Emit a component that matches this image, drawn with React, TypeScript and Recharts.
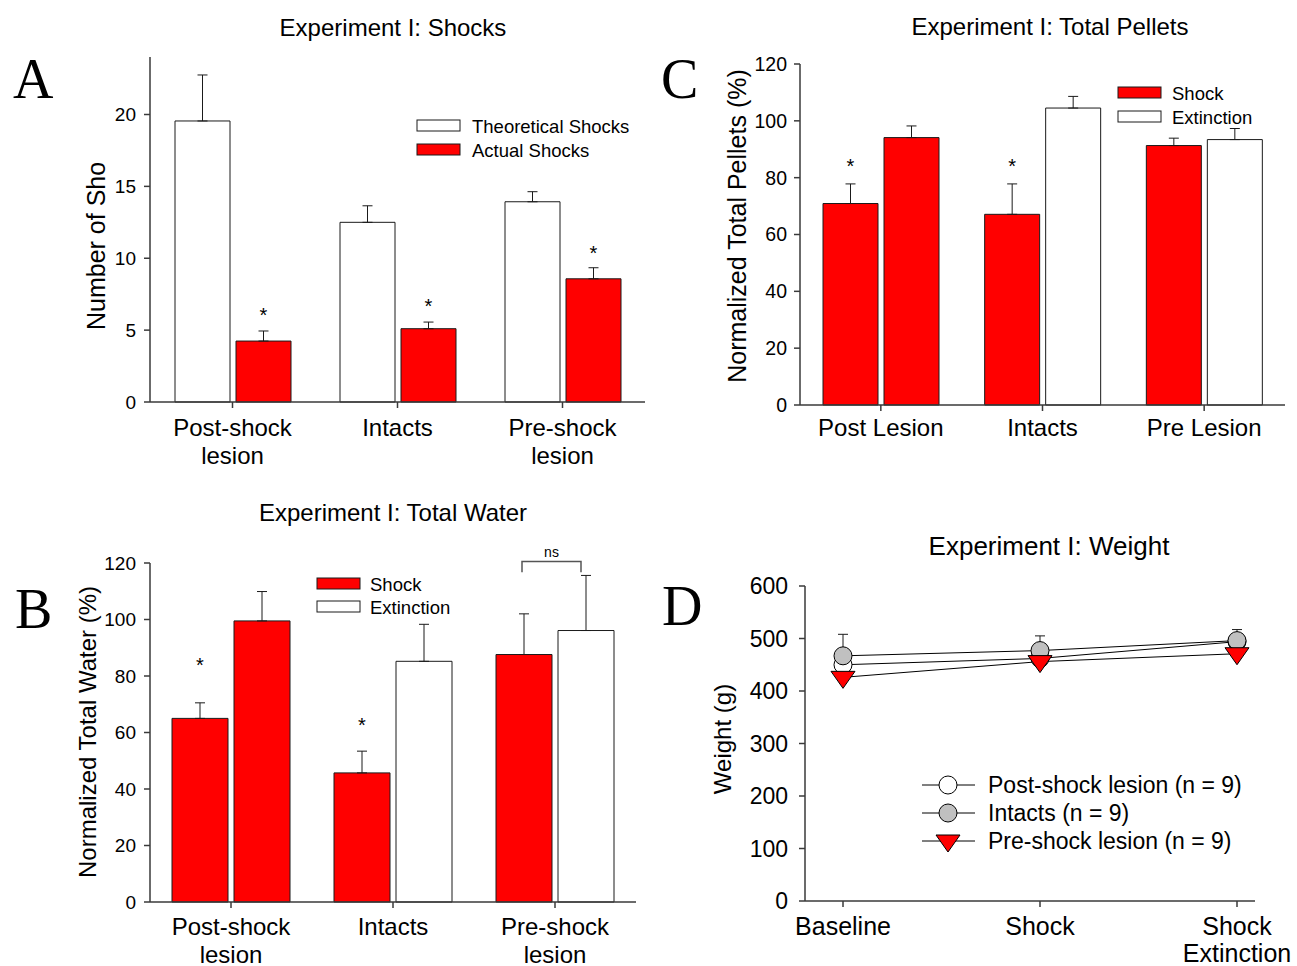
import React from 'react';
import { BarChart, Bar, XAxis, YAxis, ErrorBar, Cell, LineChart, Line } from 'recharts';

// Experiment I: Shocks
const groupsA = ['Post-shock\nlesion', 'Intacts', 'Pre-shock\nlesion'];
const theoreticalShocks = [19.55, 12.5, 13.93];
const theoreticalErr = [3.2, 1.15, 0.7];
const actualShocks = [4.24, 5.1, 8.57];
const actualErr = [0.7, 0.46, 0.77];
const actualSig = [true, true, true];
const ticksA = [0, 5, 10, 15, 20];

// Experiment I: Total Water
const groupsB = ['Post-shock\nlesion', 'Intacts', 'Pre-shock\nlesion'];
const waterShock = [65, 45.7, 87.6];
const waterShockErr = [5.5, 7.7, 14.4];
const waterExt = [99.5, 85.2, 96.1];
const waterExtErr = [10.4, 13.1, 19.5];
const waterSig = [true, true, false];
const ticksB = [0, 20, 40, 60, 80, 100, 120];
// "ns" bracket over the pre-shock group
const nsGroup = 2;
const nsLevel = 120.5;
const nsLegEnd = 116.7;

// Experiment I: Total Pellets
const groupsC = ['Post Lesion', 'Intacts', 'Pre Lesion'];
const pelletShock = [70.9, 67.1, 91.3];
const pelletShockErr = [6.9, 10.7, 2.6];
const pelletExt = [94.1, 104.5, 93.4];
const pelletExtErr = [4.1, 4.1, 3.9];
const pelletSig = [true, true, false];
const ticksC = [0, 20, 40, 60, 80, 100, 120];

// Experiment I: Weight
const phases = ['Baseline', 'Shock', 'Shock\nExtinction'];
const weightPost = [450, 462, 494];
const weightPostErr = [8, 10, 12];
const weightIntact = [467, 477, 496];
const weightIntactErr = [41, 28, 21];
const weightPre = [426, 456, 471];
const weightPreErr = [18, 19, 27];
const ticksD = [0, 100, 200, 300, 400, 500, 600];

const FONT = 'Arial, "Liberation Sans", Helvetica, sans-serif';
const SERIF = '"Liberation Serif", "Times New Roman", serif';
const RED = '#ff0000';
const WHITE = '#ffffff';
const GRAY = '#c0c0c0';
const EDGE = '#1a1a1a';
const AXIS = '#3a3a3a';

const extFill = [RED, WHITE, WHITE];
const starGapA = [20, 20, 19];
const starGapB = [42, 30, 0];
const starGapC = [22, 22, 0];

const rowsA = groupsA.map((group, i) => ({
  group,
  theoretical: theoreticalShocks[i],
  theoreticalErr: [0, theoreticalErr[i]],
  actual: actualShocks[i],
  actualErr: [0, actualErr[i]],
}));

const rowsB = groupsB.map((group, i) => ({
  group,
  shock: waterShock[i],
  shockErr: [0, waterShockErr[i]],
  ext: waterExt[i],
  extErr: [0, waterExtErr[i]],
}));

const rowsC = groupsC.map((group, i) => ({
  group,
  shock: pelletShock[i],
  shockErr: [0, pelletShockErr[i]],
  ext: pelletExt[i],
  extErr: [0, pelletExtErr[i]],
}));

const rowsD = phases.map((phase, i) => ({
  phase,
  post: weightPost[i],
  postErr: [0, weightPostErr[i]],
  intact: weightIntact[i],
  intactErr: [0, weightIntactErr[i]],
  pre: weightPre[i],
  preErr: [0, weightPreErr[i]],
}));

const categoryTick = (size: number, firstDy: number, lineDy: number) => (p: any) => (
  <text x={p.x} y={p.y} textAnchor="middle" fontFamily={FONT} fontSize={size} fill="#000">
    {String(p.payload.value).split('\n').map((line, i) => (
      <tspan key={i} x={p.x} dy={i === 0 ? firstDy : lineDy}>{line}</tspan>
    ))}
  </text>
);

const numTick = (size: number) => ({ fill: '#000', fontSize: size, fontFamily: FONT });

// asterisk above the error bar, placed from the bar's own geometry
const starLabel = (values: number[], errs: number[], marks: boolean[], gaps: number[]) => (p: any) => {
  const i = typeof p.index === 'number' ? p.index : values.indexOf(p.value);
  if (!marks[i]) return <g key={`star-${i}`} />;
  const box = p.viewBox ?? p;
  const unit = Number(box.height) / values[i];
  const top = Number(box.y) - errs[i] * unit;
  return (
    <text key={`star-${i}`} x={Number(box.x) + Number(box.width) / 2} y={top - gaps[i] + 11}
      textAnchor="middle" fontSize={20} fontFamily={FONT} fill="#000">*</text>
  );
};

const nsBracket = (gap: number) => (p: any) => {
  const i = typeof p.index === 'number' ? p.index : waterExt.indexOf(p.value);
  if (i !== nsGroup) return <g key={`ns-${i}`} />;
  const box = p.viewBox ?? p;
  const h = Number(box.height);
  const w = Number(box.width);
  const unit = h / waterExt[i];
  const base = Number(box.y) + h;
  const whiteMid = Number(box.x) + w / 2;
  const redMid = whiteMid - w - gap;
  const yLine = base - nsLevel * unit;
  const yLeg = base - nsLegEnd * unit;
  const left = redMid - 2;
  const right = whiteMid - 5;
  return (
    <g key={`ns-${i}`}>
      <path d={`M${left},${yLeg}V${yLine}H${right}V${yLeg}`} fill="none" stroke="#555" strokeWidth={1.5} />
      <text x={(left + right) / 2} y={yLine - 5} textAnchor="middle" fontSize={14} fontFamily={FONT} fill="#000">ns</text>
    </g>
  );
};

const circleDot = (fill: string) => (p: any) => (
  <circle key={`c-${fill}-${p.index}`} cx={p.cx} cy={p.cy} r={9} fill={fill} stroke="#000" strokeWidth={1} />
);

const triangleDot = (p: any) => (
  <path key={`t-${p.index}`} d={`M${p.cx - 12},${p.cy - 6}L${p.cx + 12},${p.cy - 6}L${p.cx},${p.cy + 11}Z`}
    fill={RED} stroke="#000" strokeWidth={1} />
);

const ShockPanel = () => (
  <div style={{ position: 'absolute', left: 60, top: 40 }}>
    <BarChart width={595} height={432} data={rowsA} margin={{ top: 17, right: 10, left: 30, bottom: 0 }}
      barCategoryGap={25} barGap={6}>
      <XAxis dataKey="group" height={70} interval={0} tick={categoryTick(24, 23.6, 28)} tickSize={6} tickMargin={4}
        stroke={AXIS} strokeWidth={1.5} />
      <YAxis width={60} type="number" domain={[0, 24]} ticks={ticksA} tick={numTick(19)} tickSize={6} tickMargin={8}
        stroke={AXIS} strokeWidth={1.5} />
      <Bar dataKey="theoretical" fill={WHITE} stroke={EDGE} strokeWidth={1} isAnimationActive={false}>
        <ErrorBar dataKey="theoreticalErr" direction="y" width={5} stroke={EDGE} strokeWidth={1} />
      </Bar>
      <Bar dataKey="actual" fill={RED} stroke={EDGE} strokeWidth={1} isAnimationActive={false}
        label={starLabel(actualShocks, actualErr, actualSig, starGapA)}>
        <ErrorBar dataKey="actualErr" direction="y" width={5} stroke={EDGE} strokeWidth={1} />
      </Bar>
    </BarChart>
  </div>
);

const WaterPanel = () => (
  <div style={{ position: 'absolute', left: 60, top: 530 }}>
    <BarChart width={586} height={442} data={rowsB} margin={{ top: 33, right: 10, left: 30, bottom: 0 }}
      barCategoryGap={22} barGap={6}>
      <XAxis dataKey="group" height={70} interval={0} tick={categoryTick(24, 22.6, 28)} tickSize={6} tickMargin={4}
        stroke={AXIS} strokeWidth={1.5} />
      <YAxis width={60} type="number" domain={[0, 120]} ticks={ticksB} tick={numTick(19)} tickSize={6} tickMargin={8}
        stroke={AXIS} strokeWidth={1.5} />
      <Bar dataKey="shock" fill={RED} stroke={EDGE} strokeWidth={1} isAnimationActive={false}
        label={starLabel(waterShock, waterShockErr, waterSig, starGapB)}>
        <ErrorBar dataKey="shockErr" direction="y" width={5} stroke={EDGE} strokeWidth={1} />
      </Bar>
      <Bar dataKey="ext" stroke={EDGE} strokeWidth={1} isAnimationActive={false} label={nsBracket(6)}>
        {rowsB.map((r, i) => <Cell key={r.group} fill={extFill[i]} />)}
        <ErrorBar dataKey="extErr" direction="y" width={5} stroke={EDGE} strokeWidth={1} />
      </Bar>
    </BarChart>
  </div>
);

const PelletPanel = () => (
  <div style={{ position: 'absolute', left: 700, top: 40 }}>
    <BarChart width={595} height={435} data={rowsC} margin={{ top: 24, right: 10, left: 40, bottom: 0 }}
      barCategoryGap={23} barGap={6}>
      <XAxis dataKey="group" height={70} interval={0} tick={categoryTick(24, 20.6, 28)} tickSize={6} tickMargin={4}
        stroke={AXIS} strokeWidth={1.5} />
      <YAxis width={60} type="number" domain={[0, 120]} ticks={ticksC} tick={numTick(19.5)} tickSize={6} tickMargin={7}
        stroke={AXIS} strokeWidth={1.5} />
      <Bar dataKey="shock" fill={RED} stroke={EDGE} strokeWidth={1} isAnimationActive={false}
        label={starLabel(pelletShock, pelletShockErr, pelletSig, starGapC)}>
        <ErrorBar dataKey="shockErr" direction="y" width={5} stroke={EDGE} strokeWidth={1} />
      </Bar>
      <Bar dataKey="ext" stroke={EDGE} strokeWidth={1} isAnimationActive={false}>
        {rowsC.map((r, i) => <Cell key={r.group} fill={extFill[i]} />)}
        <ErrorBar dataKey="extErr" direction="y" width={5} stroke={EDGE} strokeWidth={1} />
      </Bar>
    </BarChart>
  </div>
);

const WeightPanel = () => (
  <div style={{ position: 'absolute', left: 700, top: 560 }}>
    <LineChart width={597} height={406} data={rowsD} margin={{ top: 26, right: 42, left: 45, bottom: 0 }}>
      <XAxis dataKey="phase" height={65} interval={0} padding={{ left: 38, right: 18 }}
        tick={categoryTick(25, 24, 27)} tickSize={6} tickMargin={4} stroke={AXIS} strokeWidth={1.5} />
      <YAxis width={60} type="number" domain={[0, 600]} ticks={ticksD} tick={numTick(23)} tickSize={6} tickMargin={11}
        stroke={AXIS} strokeWidth={1.5} />
      <Line dataKey="post" type="linear" stroke="#000" strokeWidth={1} dot={circleDot(WHITE)} isAnimationActive={false}>
        <ErrorBar dataKey="postErr" direction="y" width={5} stroke={EDGE} strokeWidth={1} />
      </Line>
      <Line dataKey="intact" type="linear" stroke="#000" strokeWidth={1} dot={circleDot(GRAY)} isAnimationActive={false}>
        <ErrorBar dataKey="intactErr" direction="y" width={5} stroke={EDGE} strokeWidth={1} />
      </Line>
      <Line dataKey="pre" type="linear" stroke="#000" strokeWidth={1} dot={triangleDot} isAnimationActive={false}>
        <ErrorBar dataKey="preErr" direction="y" width={5} stroke={EDGE} strokeWidth={1} />
      </Line>
    </LineChart>
  </div>
);

const Swatch = ({ x, y, fill, label, tx }: { x: number; y: number; fill: string; label: string; tx: number }) => (
  <g>
    <rect x={x} y={y} width={43} height={11} fill={fill} stroke={EDGE} strokeWidth={1} />
    <text x={tx} y={y + 12.5} fontSize={18.5} fontFamily={FONT} fill="#000">{label}</text>
  </g>
);

const legendD = [
  { label: 'Post-shock lesion (n = 9)', kind: 'open' },
  { label: 'Intacts (n = 9)', kind: 'gray' },
  { label: 'Pre-shock lesion (n = 9)', kind: 'tri' },
];

const Overlay = () => (
  <svg width={1297} height={966} style={{ position: 'absolute', left: 0, top: 0, pointerEvents: 'none' }}>
    {/* panel letters */}
    <g fontFamily={SERIF} fontSize={56} fill="#000">
      <text x={13} y={98}>A</text>
      <text x={15} y={628}>B</text>
      <text x={661} y={98}>C</text>
      <text x={662} y={625}>D</text>
    </g>
    {/* titles */}
    <g fontFamily={FONT} fill="#000" textAnchor="middle">
      <text x={393} y={36} fontSize={24}>Experiment I: Shocks</text>
      <text x={393} y={521} fontSize={24}>Experiment I: Total Water</text>
      <text x={1050} y={35} fontSize={24}>Experiment I: Total Pellets</text>
      <text x={1049} y={555} fontSize={26}>Experiment I: Weight</text>
    </g>
    {/* y axis titles */}
    <g fontFamily={FONT} fill="#000">
      <text x={105} y={330} fontSize={25} transform="rotate(-90 105 330)">Number of Sho</text>
      <text x={96} y={732} fontSize={24} textAnchor="middle" transform="rotate(-90 96 732)">Normalized Total Water (%)</text>
      <text x={746} y={226} fontSize={25} textAnchor="middle" transform="rotate(-90 746 226)">Normalized Total Pellets (%)</text>
      <text x={731} y={739} fontSize={24} textAnchor="middle" transform="rotate(-90 731 739)">Weight (g)</text>
    </g>
    {/* legends */}
    <Swatch x={417} y={120} fill={WHITE} label="Theoretical Shocks" tx={472} />
    <Swatch x={417} y={144} fill={RED} label="Actual Shocks" tx={472} />
    <Swatch x={317} y={578} fill={RED} label="Shock" tx={370} />
    <Swatch x={317} y={601} fill={WHITE} label="Extinction" tx={370} />
    <Swatch x={1118} y={87} fill={RED} label="Shock" tx={1172} />
    <Swatch x={1118} y={111} fill={WHITE} label="Extinction" tx={1172} />
    {legendD.map((d, i) => {
      const cy = 785 + i * 28;
      return (
        <g key={d.label}>
          <line x1={922} x2={975} y1={cy} y2={cy} stroke="#000" strokeWidth={1} />
          {d.kind === 'tri' ? (
            <path d={`M${936},${cy - 6}L${960},${cy - 6}L${948},${cy + 11}Z`} fill={RED} stroke="#000" />
          ) : (
            <circle cx={948} cy={cy} r={9} fill={d.kind === 'gray' ? GRAY : WHITE} stroke="#000" />
          )}
          <text x={988} y={cy + 8.3} fontSize={23} fontFamily={FONT} fill="#000">{d.label}</text>
        </g>
      );
    })}
  </svg>
);

export default function App() {
  return (
    <div style={{ position: 'absolute', left: 0, top: 0, width: 1297, height: 966, background: '#fff', fontFamily: FONT }}>
      <ShockPanel />
      <WaterPanel />
      <PelletPanel />
      <WeightPanel />
      <Overlay />
    </div>
  );
}
